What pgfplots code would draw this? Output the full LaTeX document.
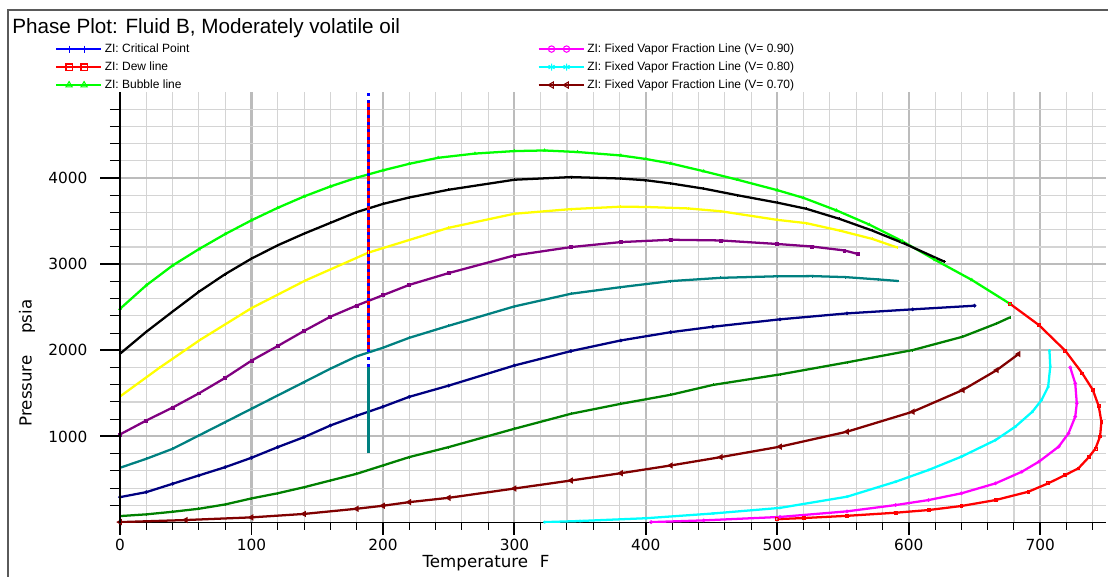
\documentclass[border=0pt]{standalone}
\usepackage{pgfplots}
\pgfplotsset{compat=1.18}
\usepackage{fontspec}
\setmainfont{Liberation Sans}
\newfontfamily\dejavu{DejaVu Sans}
\definecolor{limec}{RGB}{0,255,0}
\definecolor{maroonc}{RGB}{128,0,0}
\definecolor{purplec}{RGB}{128,0,128}
\definecolor{tealc}{RGB}{0,128,128}
\definecolor{navyc}{RGB}{0,0,128}
\definecolor{dgreen}{RGB}{0,128,0}
\definecolor{cyanc}{RGB}{0,255,255}
\definecolor{magentac}{RGB}{255,0,255}
\definecolor{yellowc}{RGB}{255,255,0}
\definecolor{gridmin}{RGB}{212,212,212}
\definecolor{gridmaj}{RGB}{188,188,188}
\definecolor{framec}{RGB}{90,90,90}
\begin{document}
\begin{tikzpicture}
\useasboundingbox (-90pt,-40.1pt) rectangle (741pt,391.9pt);
\begin{axis}[
  at={(0pt,0pt)}, anchor=south west,
  scale only axis, width=739.5pt, height=322.9pt,
  xmin=0, xmax=750, ymin=0, ymax=5000,
  axis x line*=bottom, axis y line*=left,
  axis line style={-, black, line width=1pt},
  xtick={0,100,...,700}, minor xtick={20,40,...,740},
  ytick={1000,2000,3000,4000}, minor ytick={200,400,...,4800},
  grid=both,
  major grid style={gridmaj, line width=1.6pt},
  minor grid style={gridmin, line width=0.8pt},
  tick align=outside,
  major tick length=9pt, minor tick length=5.5pt,
  every major tick/.append style={black, line width=1.4pt},
  every minor tick/.append style={black, line width=0.75pt},
  xticklabel style={font=\dejavu\fontsize{11.5}{13}\selectfont},
  yticklabel style={font=\dejavu\fontsize{11.5}{13}\selectfont, anchor=east, xshift=-12pt},
  scaled ticks=false,
  /pgf/number format/.cd, 1000 sep={}, assume math mode=true, /pgfplots/.cd,
  xlabel={\dejavu\fontsize{12.5}{14}\selectfont Temperature\hspace{0.7em}F},
  ylabel={\dejavu\fontsize{12.5}{14}\selectfont Pressure\hspace{1.3em}psia},
  xlabel style={at={(axis description cs:0.3712,-0.094)}, anchor=center},
  ylabel style={at={(axis description cs:-0.0943,0.3705)}, anchor=center},
  legend columns=2,
  legend cell align=left,
  legend style={at={(-0.0659,1.1126)}, anchor=north west, draw=none, fill=none,
     inner sep=0pt, outer sep=0pt, row sep=5.2pt,
     font=\fontsize{9}{10}\selectfont,
     nodes={inner sep=0pt, text height=6.5pt, text depth=1.8pt},
     /tikz/every odd column/.append style={column sep=2pt},
     /tikz/every even column/.append style={column sep=261pt}},
  legend image code/.code={\draw[mark repeat=1,#1,mark indices={2,3}] plot coordinates {(0pt,0pt)(9.75pt,0pt)(21pt,0pt)(33.75pt,0pt)};},
  every axis plot/.append style={mark size=1.1pt, mark options={solid, line width=0.6pt}},
]
% Bubble line
\addplot[forget plot, limec, line width=1.7pt, mark=triangle] coordinates {
(0,2482) (20,2755) (40,2985) (60,3175) (80,3350) (100,3510) (120,3655) (140,3787) (160,3903) (180,4005) (200,4090) (220,4166) (242,4236) (270,4285) (300,4314) (323,4321) (348,4303) (381,4263) (400,4222) (419,4170) (444,4080) (470,3980) (500,3860) (520,3770) (545,3625) (570,3460) (595,3268) (620,3050) (648,2817) (677,2540)};
% Dew line
\addplot[forget plot, red, line width=1.7pt, mark=square] coordinates {
(677,2540) (699,2293) (719,1996) (732,1732) (740,1540) (744.5,1350) (746.5,1170) (745.5,1000) (742,860) (737,760) (729,629) (719,552) (706,455) (691,358) (666,261) (640,192) (615,145) (590,114) (553,78) (520,52) (500,40)};
% V = 0.90
\addplot[forget plot, magentac, line width=1.7pt, mark=o] coordinates {
(404,5) (444,25) (502,65) (553,130) (590,203) (615,261) (640,339) (666,455) (686,590) (699,707) (714,881) (721.5,1036) (726.6,1229) (727.8,1384) (726.6,1616) (722.8,1802)};
% V = 0.80
\addplot[forget plot, cyanc, line width=1.7pt, mark=asterisk] coordinates {
(323,5) (350,18) (400,50) (451,105) (502,170) (553,300) (590,474) (615,610) (640,765) (666,958) (681,1113) (694,1287) (701,1423) (706,1577) (707.6,1810) (707,1996)};
% V = 0.70
\addplot[forget plot, maroonc, line width=1.7pt, mark=triangle, mark options={rotate=90}] coordinates {
(0,5) (50,29) (100,60) (140,100) (180,160) (200,195) (220,237) (250,287) (300,395) (343,488) (381,573) (419,663) (457,760) (502,881) (553,1055) (603,1287) (641,1539) (667,1771) (683.5,1957)};
% black
\addplot[forget plot, black, line width=1.7pt, mark=+] coordinates {
(0,1960) (20,2215) (40,2450) (60,2680) (80,2885) (100,3065) (120,3220) (140,3355) (160,3480) (180,3605) (200,3700) (220,3775) (250,3865) (300,3981) (343,4012) (381,3995) (400,3975) (419,3938) (444,3878) (470,3800) (500,3715) (522,3644) (547,3528) (572,3392) (597,3237) (627,3030)};
% yellow
\addplot[forget plot, yellowc, line width=1.7pt, mark=|] coordinates {
(0,1464) (30,1797) (61,2122) (100,2490) (141,2811) (189,3135) (250,3423) (300,3586) (343,3640) (381,3668) (400,3665) (432,3648) (457,3615) (500,3515) (522,3477) (547,3392) (572,3295) (591,3195)};
% purple
\addplot[forget plot, purplec, line width=1.7pt, mark=square*] coordinates {
(0,1023) (20,1185) (40,1335) (60,1500) (80,1680) (100,1880) (120,2050) (140,2225) (160,2390) (180,2520) (200,2640) (220,2760) (250,2897) (300,3102) (343,3199) (381,3257) (419,3284) (457,3276) (500,3235) (526,3206) (551,3160) (561,3120)};
% teal
\addplot[forget plot, tealc, line width=1.7pt, mark=|] coordinates {
(0,636) (20,740) (40,856) (60,1011) (80,1166) (100,1321) (120,1476) (140,1631) (160,1786) (180,1930) (200,2030) (220,2145) (250,2285) (300,2510) (343,2657) (381,2734) (419,2804) (457,2842) (500,2860) (527,2862) (552,2850) (577,2823) (592,2805)};
% navy
\addplot[forget plot, navyc, line width=1.7pt, mark=*] coordinates {
(0,295) (20,353) (40,450) (60,547) (80,643) (100,752) (120,876) (140,992) (160,1127) (180,1240) (200,1345) (220,1460) (250,1590) (300,1824) (343,1991) (381,2115) (419,2211) (451,2274) (502,2360) (553,2429) (603,2476) (650,2518)};
% dark green
\addplot[forget plot, dgreen, line width=1.7pt, mark=|] coordinates {
(0,75) (20,95) (40,125) (60,160) (80,210) (100,280) (120,340) (140,410) (160,488) (180,566) (200,663) (220,760) (250,876) (300,1089) (343,1263) (381,1379) (419,1484) (451,1598) (502,1720) (553,1860) (603,2003) (641,2158) (667,2313) (677,2383)};
% vertical lines at the critical temperature
\addplot[forget plot, red, line width=2pt, no marks] coordinates {(189,2003) (189,4884)};
\addplot[forget plot, blue, line width=2pt, no marks, dash pattern=on 2.2pt off 3.3pt] coordinates {(189,1806) (189,5000)};
\addplot[forget plot, tealc, line width=1.7pt, no marks] coordinates {(189,804) (189,1806)};
% legend
\addlegendimage{blue, line width=1.6pt, mark=+, mark size=2.6pt, mark options={solid, line width=0.8pt}}
\addlegendentry{ZI: Critical Point}
\addlegendimage{magentac, line width=1.6pt, mark=o, mark size=2.4pt, mark options={solid, line width=0.8pt}}
\addlegendentry{ZI: Fixed Vapor Fraction Line (V= 0.90)}
\addlegendimage{red, line width=1.6pt, mark=square, mark size=2.3pt, mark options={solid, line width=0.8pt}}
\addlegendentry{ZI: Dew line}
\addlegendimage{cyanc, line width=1.6pt, mark=asterisk, mark size=2.6pt, mark options={solid, line width=0.8pt}}
\addlegendentry{ZI: Fixed Vapor Fraction Line (V= 0.80)}
\addlegendimage{limec, line width=1.6pt, mark=triangle, mark size=2.6pt, mark options={solid, line width=0.8pt}}
\addlegendentry{ZI: Bubble line}
\addlegendimage{maroonc, line width=1.6pt, mark=triangle, mark size=2.6pt, mark options={solid, line width=0.8pt, rotate=90}}
\addlegendentry{ZI: Fixed Vapor Fraction Line (V= 0.70)}
\end{axis}
% overlay axis: longer y ticks only
\begin{axis}[
  at={(0pt,0pt)}, anchor=south west,
  scale only axis, width=739.5pt, height=322.9pt,
  xmin=0, xmax=750, ymin=0, ymax=5000,
  hide x axis, axis y line*=left,
  axis line style={-, black, line width=1pt},
  ytick={1000,2000,3000,4000}, yticklabel=\empty,
  minor ytick={200,400,...,4800},
  tick align=outside,
  major tick length=15pt, minor tick length=7.5pt,
  every major tick/.append style={black, line width=1.5pt},
  every minor tick/.append style={black, line width=0.75pt},
]
\end{axis}
\draw[framec, line width=1.1pt] (-84pt,-80pt) rectangle (800pt,384.4pt);
\node[anchor=base west, font=\fontsize{15.5}{18}\selectfont, inner sep=0pt] at (-81pt,367.1pt) {Phase Plot: Fluid B, Moderately volatile oil};
\end{tikzpicture}
\end{document}
